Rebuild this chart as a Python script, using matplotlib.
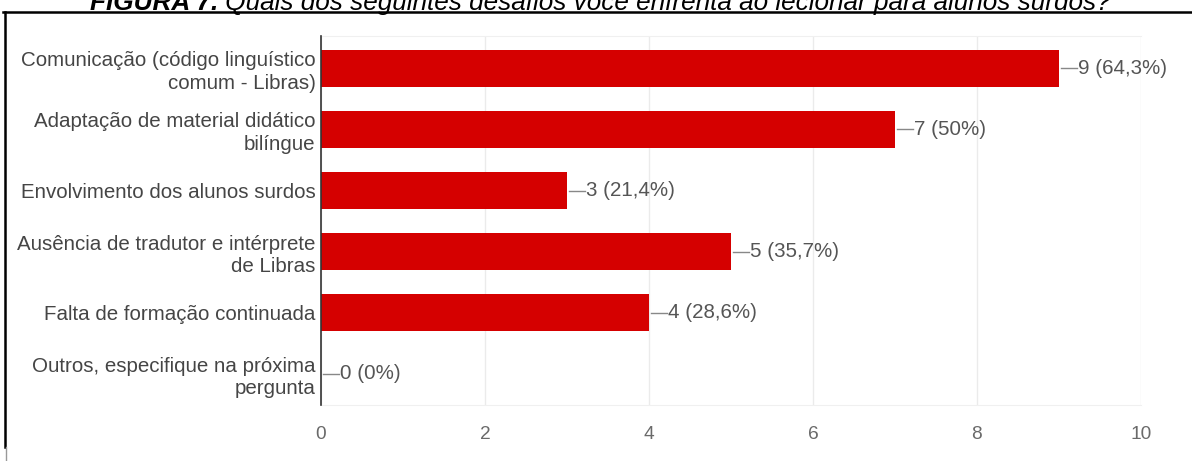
import matplotlib
matplotlib.use("Agg")
import matplotlib.pyplot as plt
from matplotlib.lines import Line2D
from matplotlib.transforms import ScaledTranslation

categories = [
    "Comunicação (código linguístico\ncomum - Libras)",
    "Adaptação de material didático\nbilíngue",
    "Envolvimento dos alunos surdos",
    "Ausência de tradutor e intérprete\nde Libras",
    "Falta de formação continuada",
    "Outros, especifique na próxima\npergunta",
]
values = [9, 7, 3, 5, 4, 0]
value_labels = ["9 (64,3%)", "7 (50%)", "3 (21,4%)", "5 (35,7%)", "4 (28,6%)", "0 (0%)"]
xticks = [0, 2, 4, 6, 8, 10]
title_bold = "FIGURA 7."
title_rest = " Quais dos seguintes desafios você enfrenta ao lecionar para alunos surdos?"

W, H = 1192, 461
fig = plt.figure(figsize=(W / 100, H / 100), dpi=100)
fig.patch.set_facecolor("white")

left, right = 321 / W, 1141 / W
top, bottom = 1 - 36 / H, 1 - 405 / H
ax = fig.add_axes([left, bottom, right - left, top - bottom])

font = "Liberation Sans"
ypos = list(range(len(categories)))
ax.barh(ypos, values, height=0.6, color="#d50000", zorder=3)
ax.set_xlim(0, 10)
ax.set_ylim(5.51, -0.53)
ax.set_yticks(ypos)
ax.set_yticklabels(categories, fontsize=14.8, color="#454545", family=font,
                   linespacing=1.22)
for lab in ax.get_yticklabels():
    lab.set_transform(lab.get_transform() + ScaledTranslation(0, 3 / 100, fig.dpi_scale_trans))
ax.set_xticks(xticks)
ax.set_xticklabels([str(t) for t in xticks], fontsize=13.8, color="#6a6a6a", family=font)
ax.tick_params(axis="y", length=0, pad=4)
ax.tick_params(axis="x", length=0, pad=15)
ax.grid(axis="x", color="#ebebeb", linewidth=1, zorder=0)
for s in ["top", "bottom"]:
    ax.spines[s].set_color("#f0f0f0")
ax.spines["right"].set_visible(False)
ax.spines["left"].set_color("#333333")
ax.spines["left"].set_linewidth(1.2)
ax.spines["left"].set_zorder(4)

# value labels with leader lines
unit = (1141 - 321) / 10.0
for y, v, lab in zip(ypos, values, value_labels):
    x0 = v + 2 / unit
    x1 = v + 18 / unit
    ax.plot([x0, x1], [y, y], color="#888888", linewidth=1, zorder=4, clip_on=False)
    ax.text(x1 + 1 / unit, y, lab, va="center", ha="left", fontsize=14.8,
            color="#555555", family=font, clip_on=False)

# frame lines
fig.add_artist(Line2D([3 / W, 1.0], [1 - 12 / H, 1 - 12 / H], color="black", linewidth=1.8,
                      transform=fig.transFigure))
fig.add_artist(Line2D([5 / W, 5 / W], [1 - 12 / H, 1 - 447 / H], color="black", linewidth=1.8,
                      transform=fig.transFigure))
fig.add_artist(Line2D([6 / W, 6 / W], [1 - 447 / H, 0], color="#999999", linewidth=1,
                      transform=fig.transFigure))

# title (bold italic + italic), centered, partially cut at top as in the reference
fig.canvas.draw()
renderer = fig.canvas.get_renderer()
tsize = 18.8
yb = 1 - 10 / H
t1 = fig.text(0, yb, title_bold, fontsize=tsize, fontweight="bold", fontstyle="italic",
              family="Liberation Sans", va="baseline", ha="left")
t2 = fig.text(0, yb, title_rest, fontsize=tsize, fontstyle="italic",
              family="Liberation Sans", va="baseline", ha="left")
w1 = t1.get_window_extent(renderer).width
w2 = t2.get_window_extent(renderer).width
x_start = (600 - (w1 + w2) / 2)
t1.set_x(x_start / W)
t2.set_x((x_start + w1) / W)

fig.savefig("out.png", dpi=100, facecolor="white")
